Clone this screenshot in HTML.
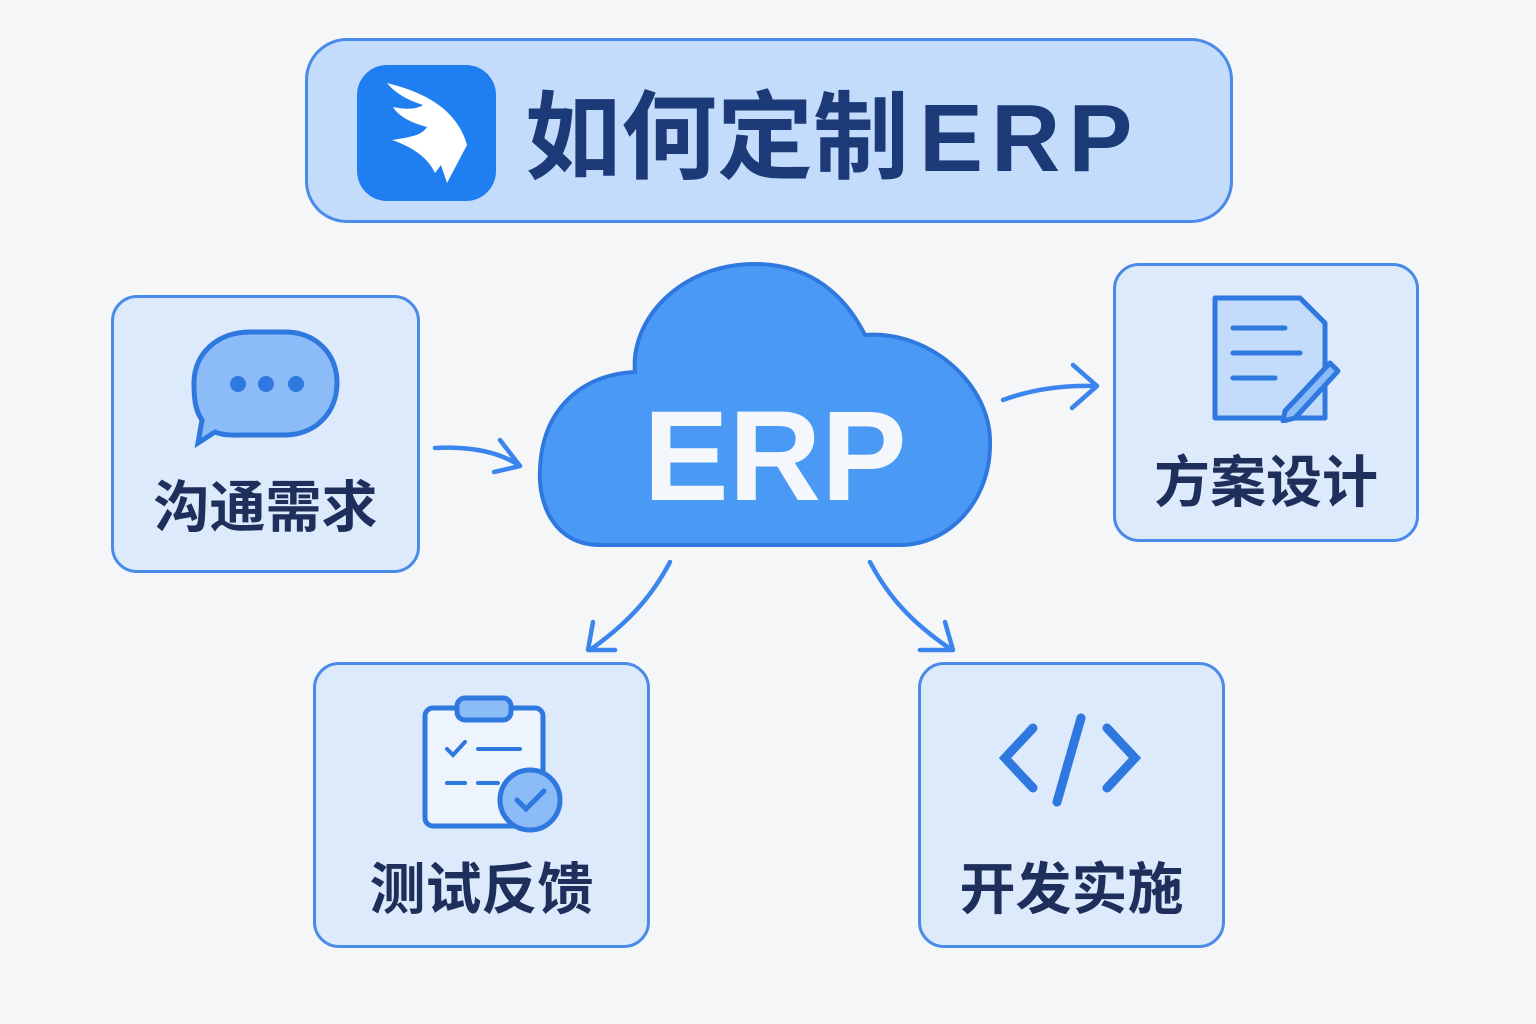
<!DOCTYPE html>
<html><head><meta charset="utf-8"><style>
body{margin:0;width:1536px;height:1024px;background:#f5f6f8;overflow:hidden;font-family:"Liberation Sans","Noto Sans CJK SC",sans-serif}
.box{position:absolute;background:#dceafc;border:3px solid #4a8ae8;border-radius:26px;box-sizing:border-box}
.lbl{position:absolute;font-weight:bold;font-size:56px;color:#1e2f5c;font-family:"Noto Sans CJK SC",sans-serif;white-space:nowrap;left:0;right:0;text-align:center}
</style></head><body>
<div class="box" style="left:305px;top:38px;width:928px;height:185px;border-radius:42px;background:#c4dcfb"></div>
<div style="position:absolute;left:357px;top:65px;width:139px;height:136px;background:#1f7ef0;border-radius:30px"></div>
<svg style="position:absolute;left:357px;top:65px" width="139" height="136" viewBox="0 0 139 136">
<path d="M30 18 C70 28 100 45 110 80 L90 118 L84 100 L78 108 C70 90 50 80 35 75 C55 72 65 70 70 62 C55 58 42 52 36 42 C50 45 60 44 66 40 C50 35 38 28 30 18Z" fill="#fff"/>
</svg>
<div style="position:absolute;left:525px;top:70px;font-size:96px;font-weight:bold;color:#1d3a78;font-family:'Noto Sans CJK SC',sans-serif;white-space:nowrap;line-height:120px">如何定制<span style="font-family:'Liberation Sans';letter-spacing:8px;margin-left:10px">ERP</span></div>

<svg style="position:absolute;left:0;top:0" width="1536" height="1024">
<path d="M600 545 C555 545 538 505 540 470 C542 410 580 375 635 372 C630 320 680 264 755 264 C810 264 845 295 865 335 C930 330 992 385 990 445 C990 500 950 545 900 545 Z" fill="#4a9af5" stroke="#2f78e0" stroke-width="4"/>
<text x="775" y="500" text-anchor="middle" font-family="Liberation Sans" font-weight="bold" font-size="128" fill="#f4f7fc">ERP</text>
<g fill="none" stroke="#3d85ee" stroke-width="4.5" stroke-linecap="round" stroke-linejoin="round">
<path d="M435 448 C470 446 500 452 520 466"/><path d="M500 440 L520 466 L494 472"/>
<path d="M1003 400 C1030 390 1060 385 1095 386"/><path d="M1073 365 L1097 386 L1072 408"/>
<path d="M670 562 C650 600 625 625 590 650"/><path d="M593 622 L588 650 L615 650"/>
<path d="M870 562 C890 600 915 625 952 650"/><path d="M920 650 L953 650 L945 622"/>
</g>
</svg>

<div class="box" style="left:111px;top:295px;width:309px;height:278px"><div class="lbl" style="top:165px">沟通需求</div></div>
<svg style="position:absolute;left:190px;top:328px" width="155" height="120"><path d="M60 4 L95 4 C125 4 147 25 147 55 C147 85 125 107 95 107 L60 107 C45 107 35 108 25 104 L8 115 L12 92 C5 82 4 70 4 55 C4 25 28 4 60 4Z" fill="#8bbcf8" stroke="#2f78e0" stroke-width="5"/><circle cx="48" cy="56" r="8" fill="#2f78e0"/><circle cx="76" cy="56" r="8" fill="#2f78e0"/><circle cx="106" cy="56" r="8" fill="#2f78e0"/></svg>

<div class="box" style="left:1113px;top:263px;width:306px;height:279px"><div class="lbl" style="top:172px">方案设计</div></div>
<svg style="position:absolute;left:1205px;top:293px" width="140" height="130"><path d="M10 5 L95 5 L120 30 L120 125 L10 125 Z" fill="#c4dcfb" stroke="#2f78e0" stroke-width="5" stroke-linejoin="round"/><g stroke="#2f78e0" stroke-width="5" stroke-linecap="round"><line x1="28" y1="35" x2="80" y2="35"/><line x1="28" y1="60" x2="95" y2="60"/><line x1="28" y1="85" x2="70" y2="85"/></g><path d="M80 118 L125 70 L133 78 L90 125 L78 128Z" fill="#8bbcf8" stroke="#2f78e0" stroke-width="5" stroke-linejoin="round"/></svg>

<div class="box" style="left:313px;top:662px;width:337px;height:286px"><div class="lbl" style="top:180px">测试反馈</div></div>
<svg style="position:absolute;left:420px;top:695px" width="150" height="140"><rect x="5" y="13" width="118" height="118" rx="8" fill="#eef4fd" stroke="#2f78e0" stroke-width="5"/><rect x="37" y="3" width="54" height="22" rx="8" fill="#8bbcf8" stroke="#2f78e0" stroke-width="5"/><g stroke="#2f78e0" stroke-width="4" stroke-linecap="round" fill="none"><path d="M27 54 L33 60 L45 47"/><line x1="58" y1="54" x2="100" y2="54"/><line x1="27" y1="88" x2="45" y2="88"/><line x1="58" y1="88" x2="78" y2="88"/></g><circle cx="110" cy="105" r="30" fill="#8bbcf8" stroke="#2f78e0" stroke-width="5"/><path d="M97 105 L106 114 L124 96" fill="none" stroke="#2f78e0" stroke-width="5" stroke-linecap="round"/></svg>

<div class="box" style="left:918px;top:662px;width:307px;height:286px"><div class="lbl" style="top:180px">开发实施</div></div>
<svg style="position:absolute;left:995px;top:710px" width="155" height="100"><g stroke="#2f78e0" stroke-width="9" stroke-linecap="round" fill="none"><path d="M38 18 L10 48 L38 78"/><path d="M112 18 L140 48 L112 78"/><line x1="86" y1="8" x2="62" y2="92"/></g></svg>
</body></html>
